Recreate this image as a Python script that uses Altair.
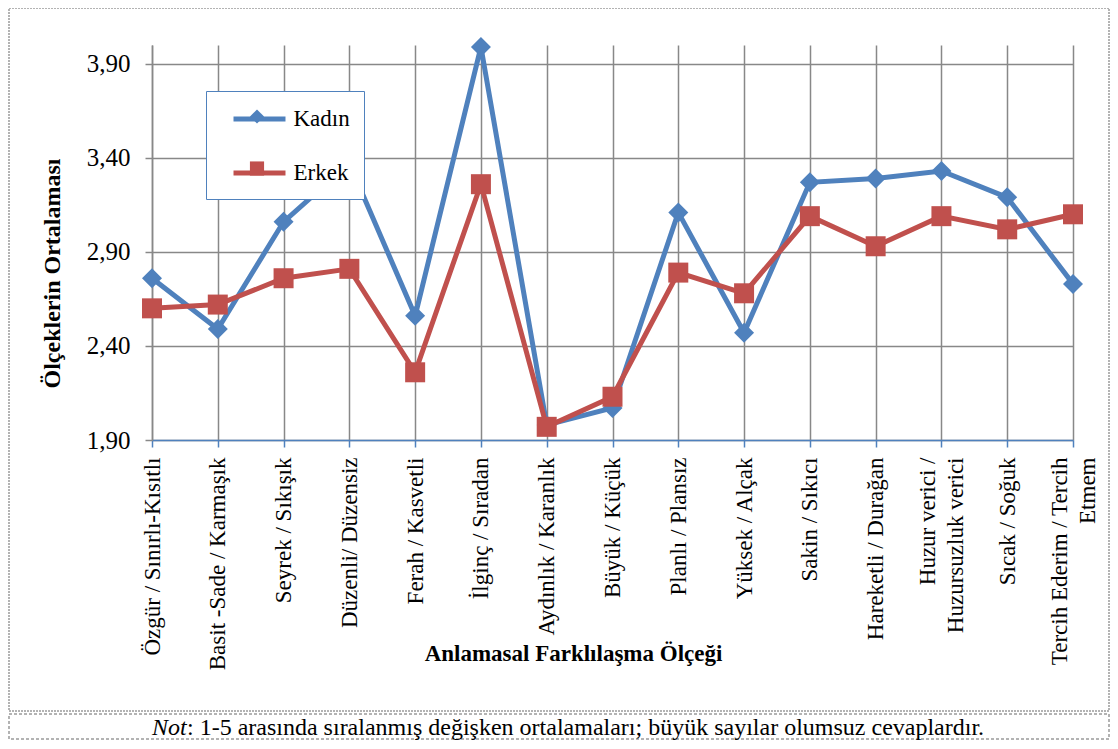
import altair as alt
import pandas as pd

categories = [
    "Özgür / Sınırlı-Kısıtlı",
    "Basit -Sade / Karmaşık",
    "Seyrek / Sıkışık",
    "Düzenli/ Düzensiz",
    "Ferah / Kasvetli",
    "İlginç / Sıradan",
    "Aydınlık / Karanlık",
    "Büyük / Küçük",
    "Planlı / Plansız",
    "Yüksek / Alçak",
    "Sakin / Sıkıcı",
    "Hareketli / Durağan",
    "Huzur verici /\nHuzursuzluk verici",
    "Sıcak / Soğuk",
    "Tercih Ederim / Tercih\nEtmem",
]
kadin = [2.76, 2.49, 3.06, 3.37, 2.56, 3.99, 1.98, 2.07, 3.11, 2.47, 3.27, 3.29, 3.33, 3.19, 2.73]
erkek = [2.60, 2.62, 2.76, 2.81, 2.26, 3.26, 1.97, 2.13, 2.79, 2.68, 3.09, 2.93, 3.09, 3.02, 3.10]
series_names = ["Kadın", "Erkek"]
marker_keys = ["Kadın-m", "Erkek-m"]
series_colors = ["#4F81BD", "#C0504D"]
y_ticks = [1.9, 2.4, 2.9, 3.4, 3.9]
x_title = "Anlamasal Farklılaşma Ölçeği"
y_title = "Ölçeklerin Ortalaması"
note_italic = ["Not"]
note_rest = [": 1-5 arasında sıralanmış değişken ortalamaları; büyük sayılar olumsuz cevaplardır."]

SERIF = "Liberation Serif"
GRID = "#888888"

rows = []
for s, m, vals in [(series_names[0], marker_keys[0], kadin), (series_names[1], marker_keys[1], erkek)]:
    for i, (c, v) in enumerate(zip(categories, vals)):
        rows.append({"idx": i, "cat": c, "seri": s, "seri_m": m, "deger": v})
df = pd.DataFrame(rows)

x_enc = alt.X(
    "cat:N",
    sort=categories,
    scale=alt.Scale(type="point", padding=0),
    axis=alt.Axis(
        title=x_title,
        titleFont=SERIF, titleFontSize=23, titleFontWeight="bold", titleColor="black",
        titleX=421, titleY=213, titleBaseline="middle", titleAlign="center",
        labelAngle=-90, labelFont=SERIF, labelFontSize=23, labelColor="black",
        labelPadding=10, labelLineHeight=28, labelLimit=400, labelOverlap=False,
        labelExpr="split(datum.label, '\\n')",
        labelOffset={"condition": {"test": "indexof(datum.value, '\\n') >= 0", "value": -14}, "value": 0},
        domainColor="#4F81BD", domainWidth=1.5,
        tickColor="#4F81BD", tickSize=7, tickWidth=1.5,
        grid=True, gridColor=GRID, gridWidth=1.5,
    ),
)
y_enc = alt.Y(
    "deger:Q",
    scale=alt.Scale(domain=[1.9, 4.0], zero=False, nice=False),
    axis=alt.Axis(
        values=y_ticks,
        title=y_title,
        titleFont=SERIF, titleFontSize=24, titleFontWeight="bold", titleColor="black",
        titleX=-100, titleY=228, titleAngle=270, titleBaseline="middle", titleAlign="center",
        labelExpr="replace(format(datum.value, '.2f'), '.', ',')",
        labelFont=SERIF, labelFontSize=25, labelColor="black", labelPadding=15,
        domainColor=GRID, domainWidth=1.5,
        tickColor=GRID, tickSize=7, tickWidth=1.5,
        grid=True, gridColor=GRID, gridWidth=1.5,
    ),
)

LEG_X, LEG_Y, LEG_PAD, LEG_ROW, LEG_SYM_OFF = 54, 46, 14, 28, 25.5

color_enc = alt.Color(
    "seri:N",
    scale=alt.Scale(domain=series_names, range=series_colors),
    sort=series_names,
    legend=alt.Legend(
        orient="none", legendX=LEG_X, legendY=LEG_Y, title=None,
        symbolType="M-2.26,0L2.26,0", symbolSize=529, symbolStrokeWidth=5,
        symbolOffset=LEG_SYM_OFF, labelOffset=20,
        labelFont=SERIF, labelFontSize=23, labelColor="black",
        padding=LEG_PAD, rowPadding=LEG_ROW,
        strokeColor="#4F81BD", fillColor="white", zindex=0,
    ),
)
marker_legend = alt.Legend(
    orient="none", legendX=LEG_X, legendY=LEG_Y, title=None,
    symbolSize=200, symbolOffset=LEG_SYM_OFF, labelOffset=20,
    labelFont=SERIF, labelFontSize=23, labelExpr="' '",
    padding=LEG_PAD, rowPadding=LEG_ROW, zindex=1,
)
fill_enc = alt.Fill(
    "seri_m:N",
    scale=alt.Scale(domain=marker_keys, range=series_colors),
    sort=marker_keys,
    legend=marker_legend,
)
shape_enc = alt.Shape(
    "seri_m:N",
    scale=alt.Scale(domain=marker_keys, range=["diamond", "square"]),
    sort=marker_keys,
    legend=marker_legend,
)

base = alt.Chart(df)
layers = []
for s in series_names:
    layers.append(
        base.transform_filter(alt.datum.seri == s)
        .mark_line(strokeWidth=5)
        .encode(x=x_enc, y=y_enc, color=color_enc, order=alt.Order("idx:Q"))
    )
    layers.append(
        base.transform_filter(alt.datum.seri == s)
        .mark_point(filled=True, size=400, opacity=1, strokeWidth=0)
        .encode(x=x_enc, y=y_enc, fill=fill_enc, shape=shape_enc)
    )

deco = alt.Chart(pd.DataFrame({"k": [0]}))
outer_box = deco.mark_rect(fill="transparent", stroke="#9A9A9A", strokeWidth=1.5, strokeDash=[2, 1]).encode(
    x=alt.value(-143), x2=alt.value(957), y=alt.value(-37), y2=alt.value(666)
)
note_box = deco.mark_rect(fill="transparent", stroke="#9A9A9A", strokeWidth=1.5, strokeDash=[3, 2]).encode(
    x=alt.value(-143), x2=alt.value(957), y=alt.value(669), y2=alt.value(694)
)
note1 = alt.Chart(pd.DataFrame({"t": note_italic})).mark_text(
    font=SERIF, fontSize=24, fontStyle="italic", align="left", baseline="middle", color="black"
).encode(text="t:N", x=alt.value(0), y=alt.value(683))
note2 = alt.Chart(pd.DataFrame({"t": note_rest})).mark_text(
    font=SERIF, fontSize=24, align="left", baseline="middle", color="black"
).encode(text="t:N", x=alt.value(35), y=alt.value(683))

chart = alt.layer(outer_box, note_box, *layers, note1, note2).properties(
    width=921,
    height=395,
    autosize=alt.AutoSizeParams(type="none"),
    padding={"left": 144, "top": 37, "right": 37, "bottom": 301},
    background="white",
).configure_view(stroke=None)

chart.save("out.html", embed_options={"renderer": "svg", "actions": False})
